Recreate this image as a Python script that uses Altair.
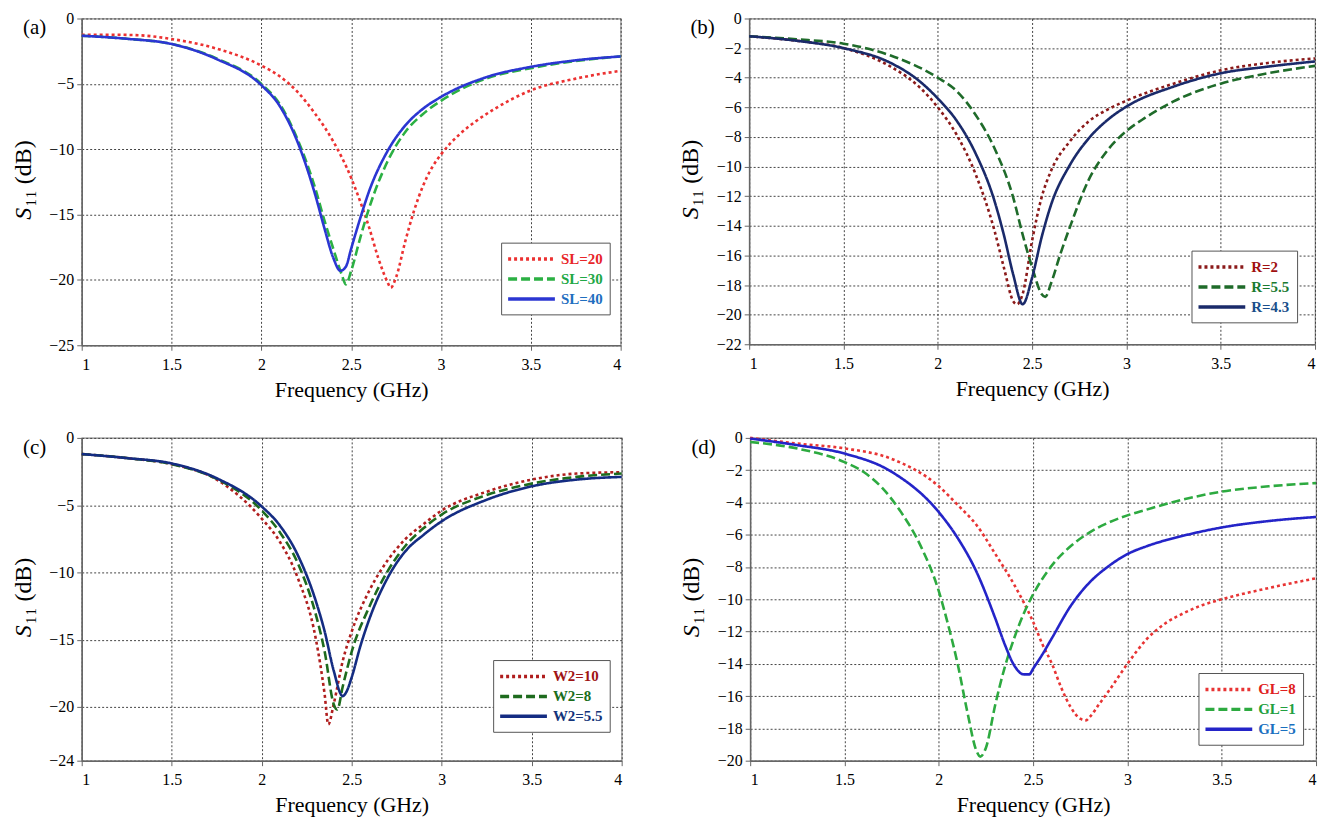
import altair as alt
import pandas as pd

FONT = "Liberation Serif"
X_TICKS = [1, 1.5, 2, 2.5, 3, 3.5, 4]

# ---------------- panel (a) ----------------
a_names = ["SL=20", "SL=30", "SL=40"]
a_sl20_f = [1.0, 1.15, 1.3, 1.5, 1.75, 2.0, 2.1, 2.2, 2.3, 2.4, 2.5, 2.55, 2.6, 2.65, 2.7, 2.72, 2.75, 2.8, 2.85, 2.9, 2.95, 3.0, 3.1, 3.2, 3.3, 3.5, 3.75, 4.0]
a_sl20_s = [-1.25, -1.24, -1.27, -1.57, -2.3, -3.6, -4.4, -5.6, -7.3, -9.4, -12.2, -14.0, -16.0, -18.3, -20.1, -20.6, -19.8, -17.1, -14.7, -12.8, -11.4, -10.4, -8.9, -7.8, -6.9, -5.5, -4.6, -4.0]
a_sl30_f = [1.0, 1.25, 1.5, 1.75, 2.0, 2.1, 2.2, 2.3, 2.35, 2.4, 2.45, 2.47, 2.5, 2.55, 2.6, 2.7, 2.8, 2.9, 3.0, 3.25, 3.5, 3.75, 4.0]
a_sl30_s = [-1.32, -1.55, -1.95, -3.05, -5.0, -6.5, -9.2, -13.0, -15.4, -17.6, -19.7, -20.35, -19.3, -16.8, -14.5, -11.0, -8.7, -7.3, -6.3, -4.6, -3.8, -3.25, -2.9]
a_sl40_f = [1.0, 1.25, 1.5, 1.75, 2.0, 2.1, 2.2, 2.3, 2.35, 2.4, 2.44, 2.47, 2.5, 2.55, 2.6, 2.7, 2.8, 2.9, 3.0, 3.25, 3.5, 3.75, 4.0]
a_sl40_s = [-1.32, -1.55, -1.95, -3.1, -5.1, -6.65, -9.4, -13.5, -16.0, -18.3, -19.3, -19.0, -17.6, -15.3, -13.2, -10.2, -8.2, -6.9, -6.0, -4.5, -3.7, -3.2, -2.9]
a_line_colors = ["#ec3131", "#2bb043", "#2b36d2"]
a_label_colors = ["#e8262a", "#22a846", "#1f6fc0"]
a_yticks = [0, -5, -10, -15, -20, -25]

# ---------------- panel (b) ----------------
b_names = ["R=2", "R=5.5", "R=4.3"]
b_r2_f = [1.0, 1.25, 1.5, 1.75, 1.9, 2.0, 2.1, 2.2, 2.3, 2.35, 2.4, 2.42, 2.45, 2.5, 2.55, 2.6, 2.7, 2.8, 2.9, 3.0, 3.25, 3.5, 3.75, 4.0]
b_r2_s = [-1.2, -1.5, -2.0, -3.25, -4.6, -6.0, -7.85, -10.5, -14.3, -16.8, -19.1, -19.3, -18.6, -15.0, -12.1, -10.3, -8.3, -6.95, -6.15, -5.55, -4.4, -3.5, -3.0, -2.7]
b_r55_f = [1.0, 1.25, 1.5, 1.75, 2.0, 2.1, 2.2, 2.3, 2.4, 2.45, 2.5, 2.55, 2.57, 2.6, 2.65, 2.7, 2.8, 2.9, 3.0, 3.1, 3.25, 3.5, 3.75, 4.0]
b_r55_s = [-1.2, -1.4, -1.7, -2.5, -4.0, -4.9, -6.5, -8.75, -12.1, -14.6, -16.8, -18.6, -18.8, -17.9, -15.9, -14.1, -10.9, -8.9, -7.6, -6.7, -5.6, -4.4, -3.7, -3.2]
b_r43_f = [1.0, 1.25, 1.5, 1.75, 1.9, 2.0, 2.1, 2.2, 2.3, 2.35, 2.4, 2.45, 2.5, 2.55, 2.6, 2.7, 2.8, 2.9, 3.0, 3.25, 3.5, 3.75, 4.0]
b_r43_s = [-1.2, -1.5, -2.0, -3.0, -4.2, -5.4, -6.9, -9.1, -12.3, -14.6, -17.3, -19.3, -17.5, -14.8, -12.6, -9.9, -8.1, -6.85, -5.95, -4.6, -3.7, -3.25, -2.9]
b_line_colors = ["#8b1a1a", "#1f6b2a", "#1a2a6a"]
b_label_colors = ["#a01010", "#1a7a30", "#1a4e8a"]
b_yticks = [0, -2, -4, -6, -8, -10, -12, -14, -16, -18, -20, -22]

# ---------------- panel (c) ----------------
c_names = ["W2=10", "W2=8", "W2=5.5"]
c_w10_f = [1.0, 1.25, 1.5, 1.75, 2.0, 2.1, 2.2, 2.3, 2.35, 2.37, 2.4, 2.45, 2.5, 2.6, 2.7, 2.8, 2.9, 3.0, 3.25, 3.5, 3.75, 4.0]
c_w10_s = [-1.2, -1.5, -1.95, -3.1, -6.0, -7.7, -10.4, -14.9, -19.1, -21.3, -19.8, -16.6, -14.4, -11.3, -9.1, -7.5, -6.4, -5.4, -4.0, -3.1, -2.65, -2.55]
c_w8_f = [1.0, 1.25, 1.5, 1.75, 2.0, 2.1, 2.2, 2.3, 2.35, 2.4, 2.42, 2.45, 2.5, 2.6, 2.7, 2.8, 2.9, 3.0, 3.25, 3.5, 3.75, 4.0]
c_w8_s = [-1.2, -1.5, -1.95, -3.05, -5.4, -7.0, -9.3, -13.1, -15.9, -19.8, -20.2, -18.5, -15.9, -12.5, -9.9, -8.0, -6.7, -5.7, -4.25, -3.4, -2.9, -2.65]
c_w55_f = [1.0, 1.25, 1.5, 1.75, 2.0, 2.1, 2.2, 2.3, 2.35, 2.4, 2.45, 2.47, 2.5, 2.55, 2.6, 2.7, 2.8, 2.9, 3.0, 3.25, 3.5, 3.75, 4.0]
c_w55_s = [-1.2, -1.5, -1.9, -3.0, -5.1, -6.5, -8.7, -12.1, -14.4, -17.3, -19.2, -18.9, -17.8, -15.4, -13.4, -10.4, -8.4, -7.2, -6.2, -4.6, -3.6, -3.1, -2.9]
c_line_colors = ["#b01e1e", "#1e6b1e", "#142c82"]
c_label_colors = ["#a01515", "#1c6e1c", "#14347a"]
c_yticks = [0, -5, -10, -15, -20, -24]

# ---------------- panel (d) ----------------
d_names = ["GL=8", "GL=1", "GL=5"]
d_gl8_f = [1.0, 1.25, 1.5, 1.75, 2.0, 2.1, 2.2, 2.3, 2.4, 2.5, 2.55, 2.6, 2.65, 2.7, 2.75, 2.78, 2.8, 2.85, 2.9, 3.0, 3.1, 3.2, 3.3, 3.4, 3.5, 3.75, 4.0]
d_gl8_s = [0.0, -0.35, -0.65, -1.3, -3.0, -4.15, -5.4, -7.2, -9.1, -11.4, -12.8, -14.0, -15.5, -16.7, -17.4, -17.5, -17.3, -16.5, -15.7, -14.0, -12.5, -11.5, -10.85, -10.35, -10.0, -9.3, -8.7]
d_gl1_f = [1.0, 1.25, 1.5, 1.6, 1.7, 1.8, 1.9, 2.0, 2.05, 2.1, 2.15, 2.2, 2.22, 2.25, 2.3, 2.35, 2.4, 2.45, 2.5, 2.6, 2.7, 2.8, 2.9, 3.0, 3.1, 3.25, 3.5, 3.75, 4.0]
d_gl1_s = [-0.25, -0.66, -1.5, -2.1, -3.1, -4.6, -6.6, -9.5, -11.6, -14.0, -16.9, -19.4, -19.75, -19.2, -16.5, -14.2, -12.4, -10.9, -9.7, -7.9, -6.7, -5.85, -5.25, -4.8, -4.45, -3.95, -3.33, -3.0, -2.8]
d_gl5_f = [1.0, 1.25, 1.5, 1.75, 2.0, 2.1, 2.2, 2.3, 2.35, 2.4, 2.45, 2.48, 2.5, 2.55, 2.6, 2.7, 2.8, 2.9, 3.0, 3.1, 3.2, 3.3, 3.5, 3.75, 4.0]
d_gl5_s = [-0.04, -0.45, -0.97, -2.1, -4.6, -6.2, -8.3, -11.2, -12.8, -14.1, -14.65, -14.65, -14.3, -13.4, -12.4, -10.4, -8.95, -7.95, -7.2, -6.72, -6.35, -6.05, -5.55, -5.15, -4.9]
d_line_colors = ["#e83434", "#2daa40", "#2424c8"]
d_label_colors = ["#e02020", "#22a040", "#1a70c0"]
d_yticks = [0, -2, -4, -6, -8, -10, -12, -14, -16, -18, -20]

DASHES = [[3, 3], [9, 4], [1, 0]]
TITLE_S = "S"
TITLE_REST = "₁₁ (dB)"


def frame(names, series):
    rows = []
    for name, (fs, ss) in zip(names, series):
        for f, s in zip(fs, ss):
            rows.append({"freq": f, "s11": s, "series": name})
    return pd.DataFrame(rows)


def label_expr(names, colors):
    expr = "'%s'" % colors[-1]
    for n, c in reversed(list(zip(names[:-1], colors[:-1]))):
        expr = "datum.label === '%s' ? '%s' : (%s)" % (n, c, expr)
    return expr


def panel(tag, names, series, line_colors, label_colors, yticks, w, h, lx, ly):
    df = frame(names, series)
    legend = alt.Legend(
        title=None, orient="none", legendX=lx, legendY=ly,
        symbolType="M-3.13,0L3.13,0", symbolSize=225, symbolStrokeWidth=3.5,
        symbolOffset=14, labelOffset=20,
        labelFont=FONT, labelFontSize=15, labelFontWeight="bold",
        labelColor=alt.ExprRef(label_expr(names, label_colors)),
        strokeColor="#555555", fillColor="white", padding=7, rowPadding=2,
    )
    lines = alt.Chart(df).mark_line(strokeWidth=2.6, interpolate="monotone").encode(
        x=alt.X("freq:Q", scale=alt.Scale(domain=[1, 4], nice=False, zero=False),
                axis=alt.Axis(values=X_TICKS, format="~g", title="Frequency (GHz)",
                              labelPadding=6, titlePadding=7)),
        y=alt.Y("s11:Q", scale=alt.Scale(domain=[min(yticks), 0], nice=False, zero=False),
                axis=alt.Axis(values=yticks, title=None, labelPadding=3,
                              minExtent=32, maxExtent=32)),
        color=alt.Color("series:N", scale=alt.Scale(domain=names, range=line_colors), legend=legend),
        strokeDash=alt.StrokeDash("series:N", scale=alt.Scale(domain=names, range=DASHES), legend=legend),
    )
    lab = alt.Chart(pd.DataFrame({"t": [tag]})).mark_text(
        align="left", baseline="middle", fontSize=21, font=FONT, color="black"
    ).encode(text="t:N", x=alt.value(-59), y=alt.value(10))
    total = 76
    ys = alt.Chart(pd.DataFrame({"t": [TITLE_S]})).mark_text(
        align="left", baseline="middle", angle=270, fontSize=24, font=FONT,
        fontStyle="italic", color="black"
    ).encode(text="t:N", x=alt.value(-58), y=alt.value(h / 2 + total / 2))
    yr = alt.Chart(pd.DataFrame({"t": [TITLE_REST]})).mark_text(
        align="left", baseline="middle", angle=270, fontSize=24, font=FONT, color="black"
    ).encode(text="t:N", x=alt.value(-58), y=alt.value(h / 2 + total / 2 - 13))
    return alt.layer(lines, lab, ys, yr).properties(width=w, height=h)


pa = panel("(a)", a_names, [(a_sl20_f, a_sl20_s), (a_sl30_f, a_sl30_s), (a_sl40_f, a_sl40_s)],
           a_line_colors, a_label_colors, a_yticks, 541, 328, 421, 225)
pb = panel("(b)", b_names, [(b_r2_f, b_r2_s), (b_r55_f, b_r55_s), (b_r43_f, b_r43_s)],
           b_line_colors, b_label_colors, b_yticks, 568, 327, 444, 233)
pc = panel("(c)", c_names, [(c_w10_f, c_w10_s), (c_w8_f, c_w8_s), (c_w55_f, c_w55_s)],
           c_line_colors, c_label_colors, c_yticks, 542, 324, 413, 223)
pd_ = panel("(d)", d_names, [(d_gl8_f, d_gl8_s), (d_gl1_f, d_gl1_s), (d_gl5_f, d_gl5_s)],
            d_line_colors, d_label_colors, d_yticks, 568, 324, 450, 236)

row1 = alt.hconcat(pa, pb, spacing=52).resolve_scale(color="independent", strokeDash="independent")
row2 = alt.hconcat(pc, pd_, spacing=52).resolve_scale(color="independent", strokeDash="independent")

chart = alt.vconcat(row1, row2, spacing=28).resolve_scale(
    color="independent", strokeDash="independent"
).properties(
    padding={"left": 3, "top": 0, "right": 0, "bottom": 0},
    background="white",
).configure_view(
    stroke="#8a8a8a", strokeWidth=1.2
).configure_axis(
    labelFont=FONT, labelFontSize=16, labelColor="black",
    titleFont=FONT, titleFontSize=22, titleFontWeight="normal", titleColor="black",
    domainColor="#666666", domainWidth=1.5, tickColor="#666666", tickSize=5,
    gridColor="#444444", gridDash=[2, 2], gridWidth=1, gridOpacity=1,
)

chart.save("out.html", embed_options={"renderer": "svg", "actions": False})
